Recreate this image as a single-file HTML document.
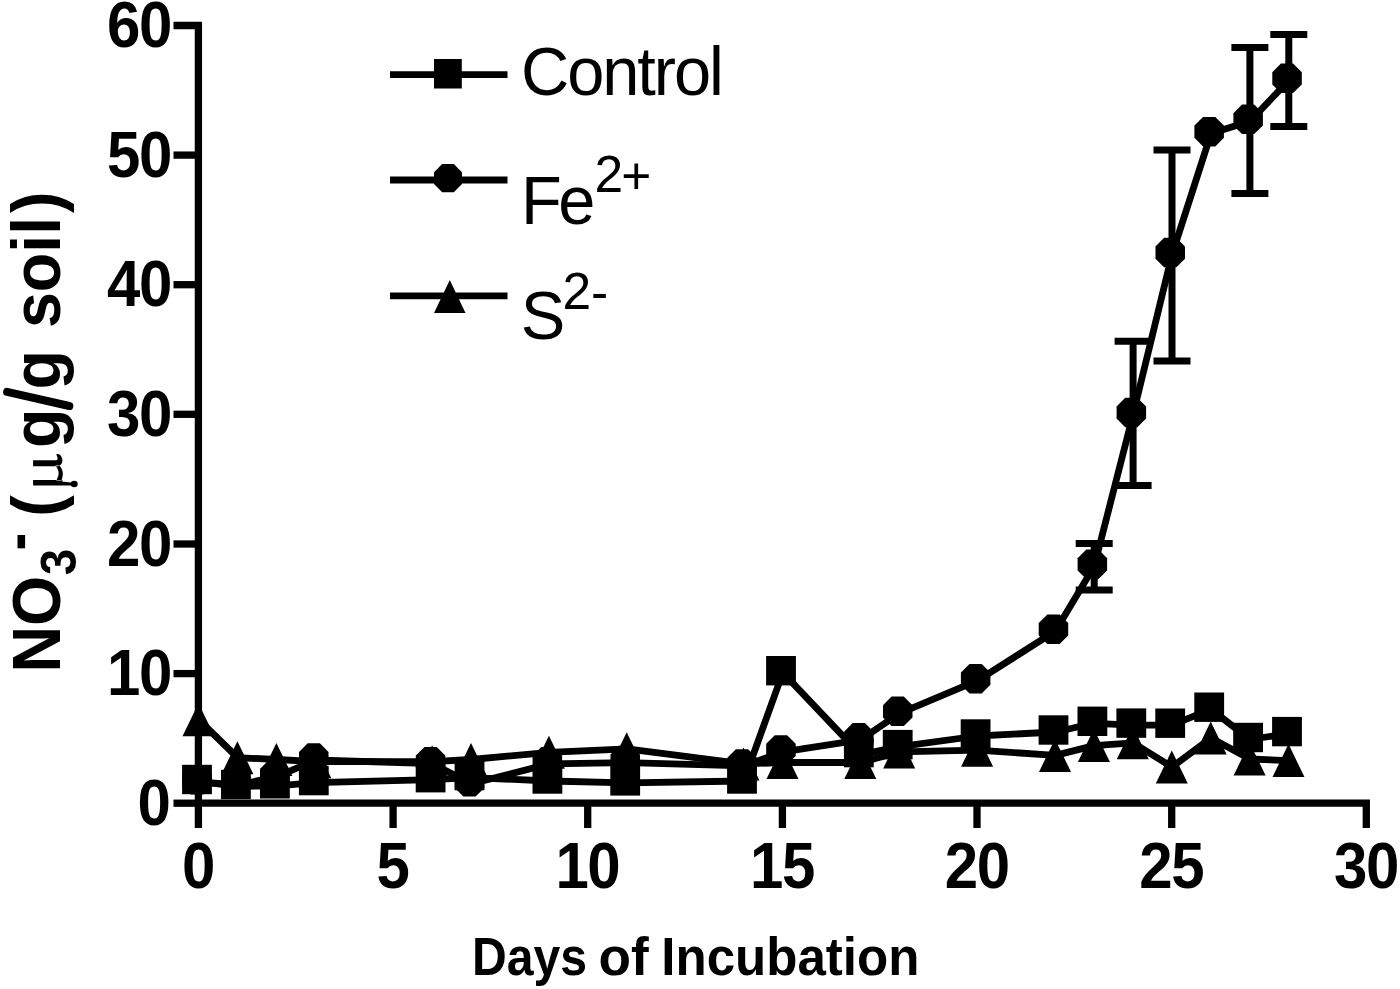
<!DOCTYPE html>
<html><head><meta charset="utf-8"><style>
html,body{margin:0;padding:0;background:#fff;width:1400px;height:989px;overflow:hidden}
svg{display:block}
text{font-family:"Liberation Sans",sans-serif;fill:#000}
.tk{font-weight:bold;font-size:60px;letter-spacing:-1.4px}
.lg{font-size:68.5px}
.sup{font-size:51.5px}
.xt{font-weight:bold;font-size:53.2px}
.yt{font-weight:bold;font-size:68px}
.yts{font-weight:bold;font-size:50px}
</style></head><body>
<svg width="1400" height="989" viewBox="0 0 1400 989">
<path d="M173.5,25.5 H198.4 V828" stroke="#000" stroke-width="7.3" fill="none" stroke-linejoin="miter"/>
<path d="M198.4,803.2 H1366.3 V828" stroke="#000" stroke-width="7.3" fill="none" stroke-linejoin="miter"/>
<path d="M173.5,803.2 H198.4" stroke="#000" stroke-width="7.3"/>
<path d="M173.5,673.6 H198.4" stroke="#000" stroke-width="7.3"/>
<path d="M173.5,544.0 H198.4" stroke="#000" stroke-width="7.3"/>
<path d="M173.5,414.3 H198.4" stroke="#000" stroke-width="7.3"/>
<path d="M173.5,284.7 H198.4" stroke="#000" stroke-width="7.3"/>
<path d="M173.5,155.1 H198.4" stroke="#000" stroke-width="7.3"/>
<path d="M393.1,803.2 V828" stroke="#000" stroke-width="7.3"/>
<path d="M587.7,803.2 V828" stroke="#000" stroke-width="7.3"/>
<path d="M782.4,803.2 V828" stroke="#000" stroke-width="7.3"/>
<path d="M977.0,803.2 V828" stroke="#000" stroke-width="7.3"/>
<path d="M1171.7,803.2 V828" stroke="#000" stroke-width="7.3"/>
<text class="tk" transform="translate(137.40,824.90) scale(1,1.065)">0</text>
<text class="tk" transform="translate(107.00,695.28) scale(1,1.065)">10</text>
<text class="tk" transform="translate(107.00,565.66) scale(1,1.065)">20</text>
<text class="tk" transform="translate(107.00,436.04) scale(1,1.065)">30</text>
<text class="tk" transform="translate(107.00,306.42) scale(1,1.065)">40</text>
<text class="tk" transform="translate(107.00,176.80) scale(1,1.065)">50</text>
<text class="tk" transform="translate(107.00,47.18) scale(1,1.065)">60</text>
<text class="tk" transform="translate(181.90,887.5) scale(1,1.065)">0</text>
<text class="tk" transform="translate(376.55,887.5) scale(1,1.065)">5</text>
<text class="tk" transform="translate(555.40,887.5) scale(1,1.065)">10</text>
<text class="tk" transform="translate(750.05,887.5) scale(1,1.065)">15</text>
<text class="tk" transform="translate(944.70,887.5) scale(1,1.065)">20</text>
<text class="tk" transform="translate(1139.35,887.5) scale(1,1.065)">25</text>
<text class="tk" transform="translate(1334.00,887.5) scale(1,1.065)">30</text>
<polyline points="198.8,781.5 237.7,786.5 276.7,785.8 315.6,782.6 432.4,779.7 471.3,777.6 549.2,781.0 627.0,782.9 743.8,781.0 782.8,672.7 860.6,754.6 899.5,746.6 977.4,736.0 1055.3,732.0 1094.2,723.3 1133.1,725.1 1172.0,725.2 1211.0,709.2 1249.9,739.5 1288.8,733.6" fill="none" stroke="#000" stroke-width="6.8" stroke-linejoin="round"/>
<polyline points="198.8,781.9 237.7,785.0 276.7,776.8 315.6,760.0 432.4,763.7 471.3,783.8 549.2,763.9 627.0,762.6 743.8,765.9 782.8,751.9 860.6,739.9 899.5,713.3 977.4,680.6 1055.3,631.2 1094.2,566.3 1133.1,414.5 1172.0,254.6 1211.0,133.6 1249.9,121.3 1288.8,80.4" fill="none" stroke="#000" stroke-width="6.8" stroke-linejoin="round"/>
<polyline points="198.8,719.7 237.7,757.7 276.7,759.5 315.6,761.7 432.4,761.7 471.3,759.5 549.2,752.3 627.0,748.8 743.8,763.9 782.8,762.5 860.6,762.5 899.5,751.9 977.4,750.2 1055.3,755.4 1094.2,745.6 1133.1,742.8 1172.0,767.0 1211.0,738.0 1249.9,759.0 1288.8,760.6" fill="none" stroke="#000" stroke-width="6.8" stroke-linejoin="round"/>
<path d="M1094.2,543.6 V590.1 M1075.7,543.6 H1112.7 M1075.7,590.1 H1112.7" stroke="#000" stroke-width="7.0" fill="none"/>
<path d="M1133.1,341.2 V485.4 M1114.6,341.2 H1151.6 M1114.6,485.4 H1151.6" stroke="#000" stroke-width="7.0" fill="none"/>
<path d="M1172.0,150.0 V360.9 M1153.5,150.0 H1190.5 M1153.5,360.9 H1190.5" stroke="#000" stroke-width="7.0" fill="none"/>
<path d="M1249.9,47.5 V193.5 M1231.4,47.5 H1268.4 M1231.4,193.5 H1268.4" stroke="#000" stroke-width="7.0" fill="none"/>
<path d="M1288.8,34.4 V126.5 M1270.3,34.4 H1307.3 M1270.3,126.5 H1307.3" stroke="#000" stroke-width="7.0" fill="none"/>
<polygon points="198.5,703.2 214.5,736.2 182.5,736.2"/>
<polygon points="237.4,741.2 253.4,774.2 221.4,774.2"/>
<polygon points="276.4,743.0 292.4,776.0 260.4,776.0"/>
<polygon points="315.3,745.2 331.3,778.2 299.3,778.2"/>
<polygon points="432.1,745.2 448.1,778.2 416.1,778.2"/>
<polygon points="471.0,743.0 487.0,776.0 455.0,776.0"/>
<polygon points="548.9,735.8 564.9,768.8 532.9,768.8"/>
<polygon points="626.7,732.3 642.7,765.3 610.7,765.3"/>
<polygon points="743.5,747.4 759.5,780.4 727.5,780.4"/>
<polygon points="782.5,746.0 798.5,779.0 766.5,779.0"/>
<polygon points="860.3,746.0 876.3,779.0 844.3,779.0"/>
<polygon points="899.2,735.4 915.2,768.4 883.2,768.4"/>
<polygon points="977.1,733.7 993.1,766.7 961.1,766.7"/>
<polygon points="1055.0,738.9 1071.0,771.9 1039.0,771.9"/>
<polygon points="1093.9,729.1 1109.9,762.1 1077.9,762.1"/>
<polygon points="1132.8,726.3 1148.8,759.3 1116.8,759.3"/>
<polygon points="1171.8,750.5 1187.8,783.5 1155.8,783.5"/>
<polygon points="1210.7,721.5 1226.7,754.5 1194.7,754.5"/>
<polygon points="1249.6,742.5 1265.6,775.5 1233.6,775.5"/>
<polygon points="1288.5,744.1 1304.5,777.1 1272.5,777.1"/>
<polygon points="190.9,765.1 203.1,765.1 211.8,773.8 211.8,786.0 203.1,794.6 190.9,794.6 182.2,786.0 182.2,773.8"/>
<polygon points="229.8,768.2 242.0,768.2 250.7,776.9 250.7,789.1 242.0,797.7 229.8,797.7 221.2,789.1 221.2,776.9"/>
<polygon points="268.8,760.1 281.0,760.1 289.6,768.7 289.6,780.9 281.0,789.6 268.8,789.6 260.1,780.9 260.1,768.7"/>
<polygon points="307.7,743.2 319.9,743.2 328.5,751.9 328.5,764.1 319.9,772.7 307.7,772.7 299.0,764.1 299.0,751.9"/>
<polygon points="424.5,747.0 436.7,747.0 445.3,755.6 445.3,767.8 436.7,776.5 424.5,776.5 415.8,767.8 415.8,755.6"/>
<polygon points="463.4,767.1 475.6,767.1 484.3,775.7 484.3,787.9 475.6,796.6 463.4,796.6 454.8,787.9 454.8,775.7"/>
<polygon points="541.3,747.1 553.5,747.1 562.1,755.7 562.1,768.0 553.5,776.6 541.3,776.6 532.6,768.0 532.6,755.7"/>
<polygon points="619.1,745.8 631.3,745.8 640.0,754.4 640.0,766.7 631.3,775.3 619.1,775.3 610.5,766.7 610.5,754.4"/>
<polygon points="735.9,749.2 748.1,749.2 756.8,757.8 756.8,770.0 748.1,778.7 735.9,778.7 727.3,770.0 727.3,757.8"/>
<polygon points="774.8,735.2 787.1,735.2 795.7,743.8 795.7,756.0 787.1,764.7 774.8,764.7 766.2,756.0 766.2,743.8"/>
<polygon points="852.7,723.1 864.9,723.1 873.6,731.8 873.6,744.0 864.9,752.6 852.7,752.6 844.1,744.0 844.1,731.8"/>
<polygon points="891.6,696.5 903.8,696.5 912.5,705.2 912.5,717.4 903.8,726.0 891.6,726.0 883.0,717.4 883.0,705.2"/>
<polygon points="969.5,663.9 981.7,663.9 990.4,672.5 990.4,684.7 981.7,693.4 969.5,693.4 960.9,684.7 960.9,672.5"/>
<polygon points="1047.4,614.5 1059.6,614.5 1068.2,623.1 1068.2,635.4 1059.6,644.0 1047.4,644.0 1038.7,635.4 1038.7,623.1"/>
<polygon points="1086.3,549.6 1098.5,549.6 1107.1,558.2 1107.1,570.4 1098.5,579.1 1086.3,579.1 1077.6,570.4 1077.6,558.2"/>
<polygon points="1125.2,397.8 1137.4,397.8 1146.1,406.4 1146.1,418.6 1137.4,427.3 1125.2,427.3 1116.6,418.6 1116.6,406.4"/>
<polygon points="1164.1,237.8 1176.4,237.8 1185.0,246.5 1185.0,258.7 1176.4,267.3 1164.1,267.3 1155.5,258.7 1155.5,246.5"/>
<polygon points="1203.1,116.9 1215.3,116.9 1223.9,125.5 1223.9,137.7 1215.3,146.4 1203.1,146.4 1194.4,137.7 1194.4,125.5"/>
<polygon points="1242.0,104.6 1254.2,104.6 1262.9,113.2 1262.9,125.4 1254.2,134.1 1242.0,134.1 1233.4,125.4 1233.4,113.2"/>
<polygon points="1280.9,63.6 1293.1,63.6 1301.8,72.3 1301.8,84.5 1293.1,93.1 1280.9,93.1 1272.3,84.5 1272.3,72.3"/>
<rect x="182.1" y="764.8" width="29.8" height="29.4"/>
<rect x="221.0" y="769.8" width="29.8" height="29.4"/>
<rect x="260.0" y="769.1" width="29.8" height="29.4"/>
<rect x="298.9" y="765.9" width="29.8" height="29.4"/>
<rect x="415.7" y="763.0" width="29.8" height="29.4"/>
<rect x="454.6" y="760.9" width="29.8" height="29.4"/>
<rect x="532.5" y="764.3" width="29.8" height="29.4"/>
<rect x="610.3" y="766.2" width="29.8" height="29.4"/>
<rect x="727.1" y="764.3" width="29.8" height="29.4"/>
<rect x="766.1" y="656.0" width="29.8" height="29.4"/>
<rect x="843.9" y="737.9" width="29.8" height="29.4"/>
<rect x="882.8" y="729.9" width="29.8" height="29.4"/>
<rect x="960.7" y="719.3" width="29.8" height="29.4"/>
<rect x="1038.6" y="715.3" width="29.8" height="29.4"/>
<rect x="1077.5" y="706.6" width="29.8" height="29.4"/>
<rect x="1116.4" y="708.4" width="29.8" height="29.4"/>
<rect x="1155.3" y="708.5" width="29.8" height="29.4"/>
<rect x="1194.3" y="692.5" width="29.8" height="29.4"/>
<rect x="1233.2" y="722.8" width="29.8" height="29.4"/>
<rect x="1272.1" y="716.9" width="29.8" height="29.4"/>
<path d="M390,74.6 H507.5" stroke="#000" stroke-width="6.9"/>
<path d="M390,180 H507.5" stroke="#000" stroke-width="6.9"/>
<path d="M390,295.9 H507.5" stroke="#000" stroke-width="6.9"/>
<rect x="434.0" y="59.0" width="27.8" height="29.5"/>
<polygon points="442.2,164.0 453.8,164.0 462.0,172.3 462.0,183.9 453.8,192.2 442.2,192.2 434.0,183.9 434.0,172.3"/>
<polygon points="449.8,280.0 465.5,313.0 434.0,313.0"/>
<text class="lg" transform="translate(521.0,95.3) scale(0.975,1)" style="letter-spacing:-2.1px">Control</text>
<text class="lg" transform="translate(521.0,223.7) scale(0.975,1)" style="letter-spacing:-3.5px">Fe</text>
<text class="sup" transform="translate(594.5,192.3)">2</text>
<text class="sup" transform="translate(621.3,193.6)">+</text>
<text class="lg" transform="translate(520.8,339.3) scale(0.975,1)">S</text>
<text class="sup" transform="translate(562.6,308.6)">2</text>
<text class="sup" transform="translate(591,310.1)">-</text>
<text class="xt" transform="translate(471.9,975) scale(0.905,1)">Days</text>
<text class="xt" transform="translate(598.5,975)">of</text>
<text class="xt" transform="translate(661.35,975) scale(0.96,1)">Incubation</text>
<g transform="translate(59.8,668.3) rotate(-90) scale(0.95,1)"><text class="yt" x="-4.5" y="0">NO</text><text class="yts" x="98" y="15.7">3</text><text class="yt" x="159.6" y="0">(</text><text class="yt" x="232" y="0">g</text><text class="yt" x="293.5" y="0">g</text><text class="yt" x="358.1" y="0">soil</text><text class="yt" x="479.2" y="0">)</text></g>
<rect x="17.5" y="535" width="7.6" height="13.3"/>
<path d="M33.1,460.2 L56.5,460.2 C57.5,460.2 58,458.5 57.2,456.8 L56.3,454.3 C58.8,453.4 61.6,455.6 62.3,459 C62.9,462.5 61,465.6 58,466.2 L33.1,466.2 Z M55.3,465.6 C59.3,470 59.8,475 56.3,480.5 L61.5,480.5 C63.8,475 63.3,470 59.5,465.6 Z M33.1,479.9 L62.4,479.9 L62.4,485.4 L33.1,485.4 Z M62,481.6 C66,482.2 69,482.6 72,482.4 L72,485.4 C69,485.3 66,485.6 62,485.4 Z"/>
<ellipse cx="74.2" cy="484" rx="3.5" ry="3.3"/>
<path d="M7.1,391.8 L69.3,406" stroke="#000" stroke-width="8" stroke-linecap="round"/>
</svg>
</body></html>
